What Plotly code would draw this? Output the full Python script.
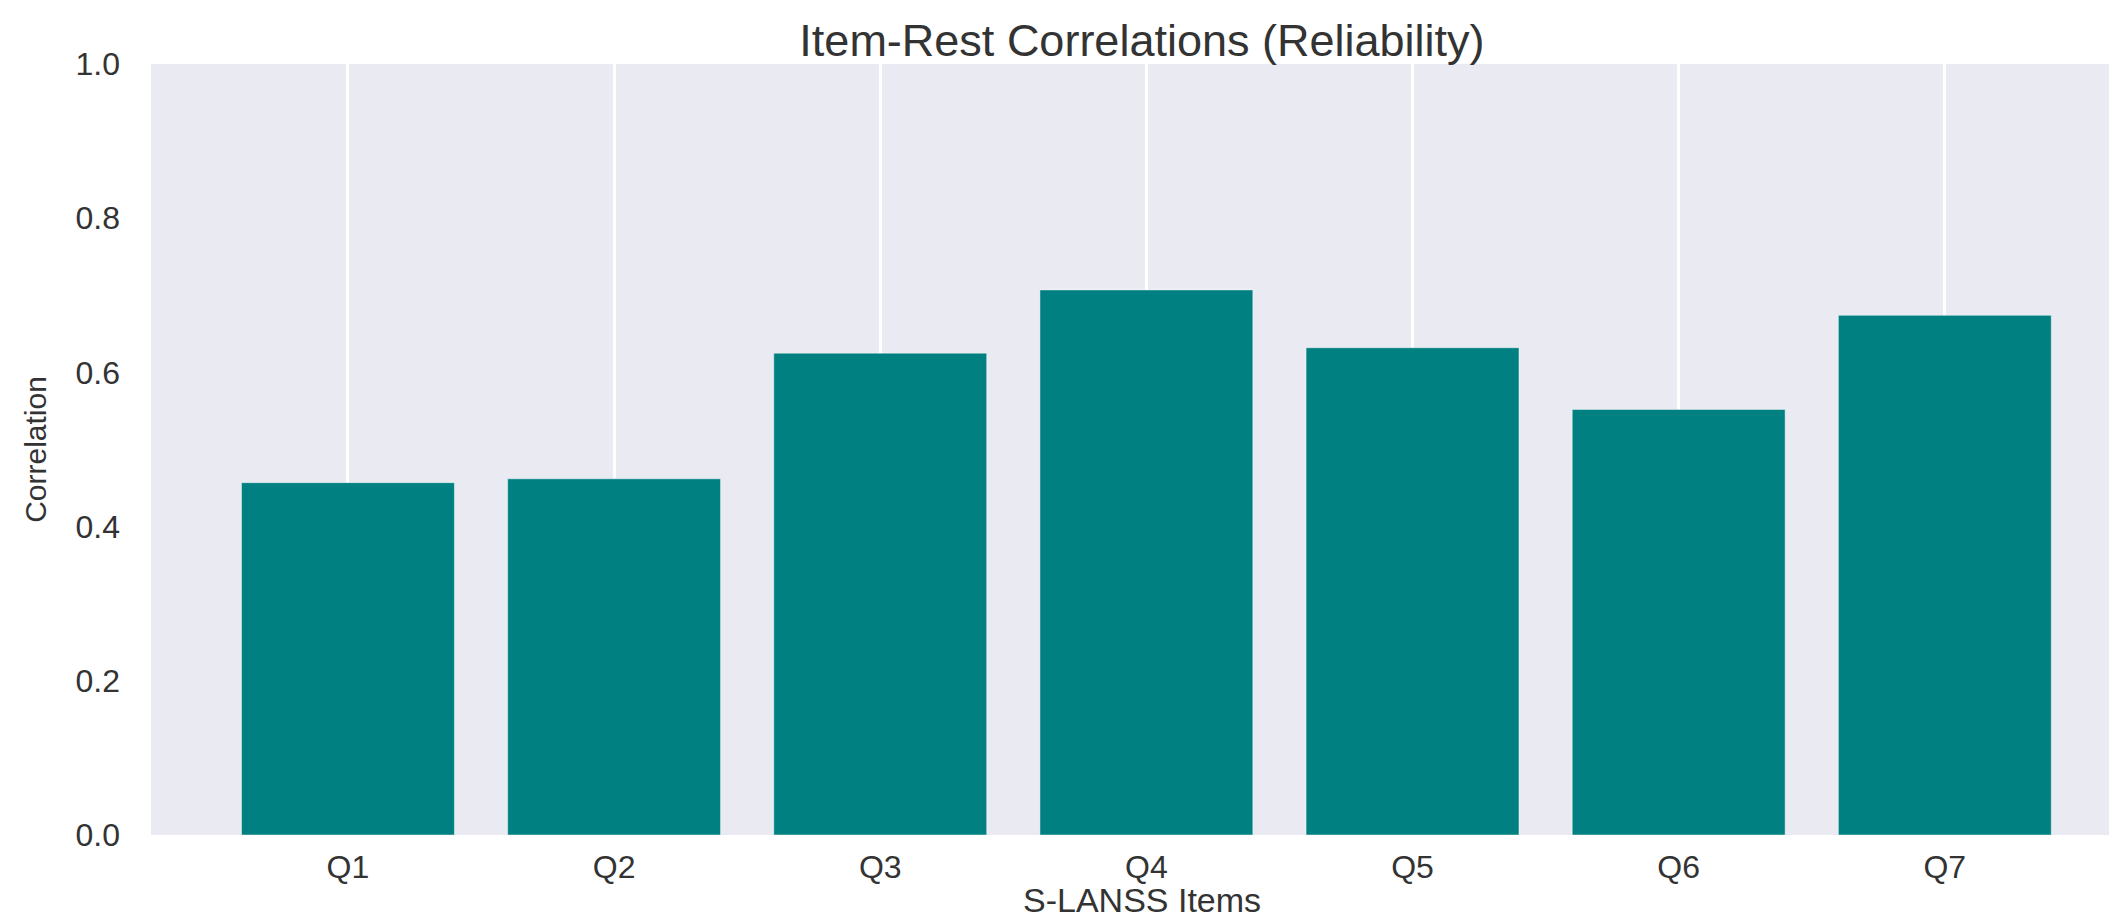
import plotly.graph_objects as go

items = ["Q1", "Q2", "Q3", "Q4", "Q5", "Q6", "Q7"]
correlations = [0.457, 0.462, 0.625, 0.707, 0.632, 0.552, 0.674]
y_ticks = [0.0, 0.2, 0.4, 0.6, 0.8, 1.0]

W, H = 2117, 916
L, R, T, B = 143, 0, 56, 89
FONT = "Liberation Sans, Arial, sans-serif"
TXT = "#333333"

fig = go.Figure()
fig.add_trace(go.Bar(
    x=list(range(len(items))),
    y=correlations,
    width=0.8,
    marker=dict(color="#008080", line=dict(color="rgba(255,255,255,0.45)", width=1)),
    showlegend=False,
))

fig.update_layout(
    width=W, height=H,
    margin=dict(l=L, r=R, t=T, b=B, pad=0),
    paper_bgcolor="white",
    plot_bgcolor="#EAEAF2",
    font=dict(family=FONT, color=TXT),
    title=dict(
        text="Item-Rest Correlations (Reliability)",
        font=dict(size=45, color=TXT, family=FONT),
        x=0.502, xref="paper", xanchor="center",
        y=1 - 32.5 / H, yref="container", yanchor="middle",
    ),
    xaxis=dict(
        range=[-0.74, 6.677],
        tickmode="array",
        tickvals=list(range(len(items))),
        ticktext=items,
        tickfont=dict(size=32, color=TXT),
        showgrid=True, gridcolor="white", gridwidth=3,
        zeroline=False, showline=False, ticks="",
        ticklabelstandoff=10,
    ),
    yaxis=dict(
        range=[0, 1],
        tickmode="array",
        tickvals=y_ticks,
        ticktext=[f"{v:.1f}" for v in y_ticks],
        tickfont=dict(size=32, color=TXT),
        showgrid=False,
        zeroline=False, showline=False, ticks="",
        ticklabelstandoff=30,
        title=dict(text="Correlation", font=dict(size=30, color=TXT), standoff=20),
    ),
    bargap=0.2,
)

fig.add_annotation(
    text="S-LANSS Items",
    xref="paper", yref="paper", x=0.502, y=0,
    xanchor="center", yanchor="middle", yshift=-65,
    showarrow=False, font=dict(size=34, color=TXT, family=FONT),
)

fig.write_html("out.html")
